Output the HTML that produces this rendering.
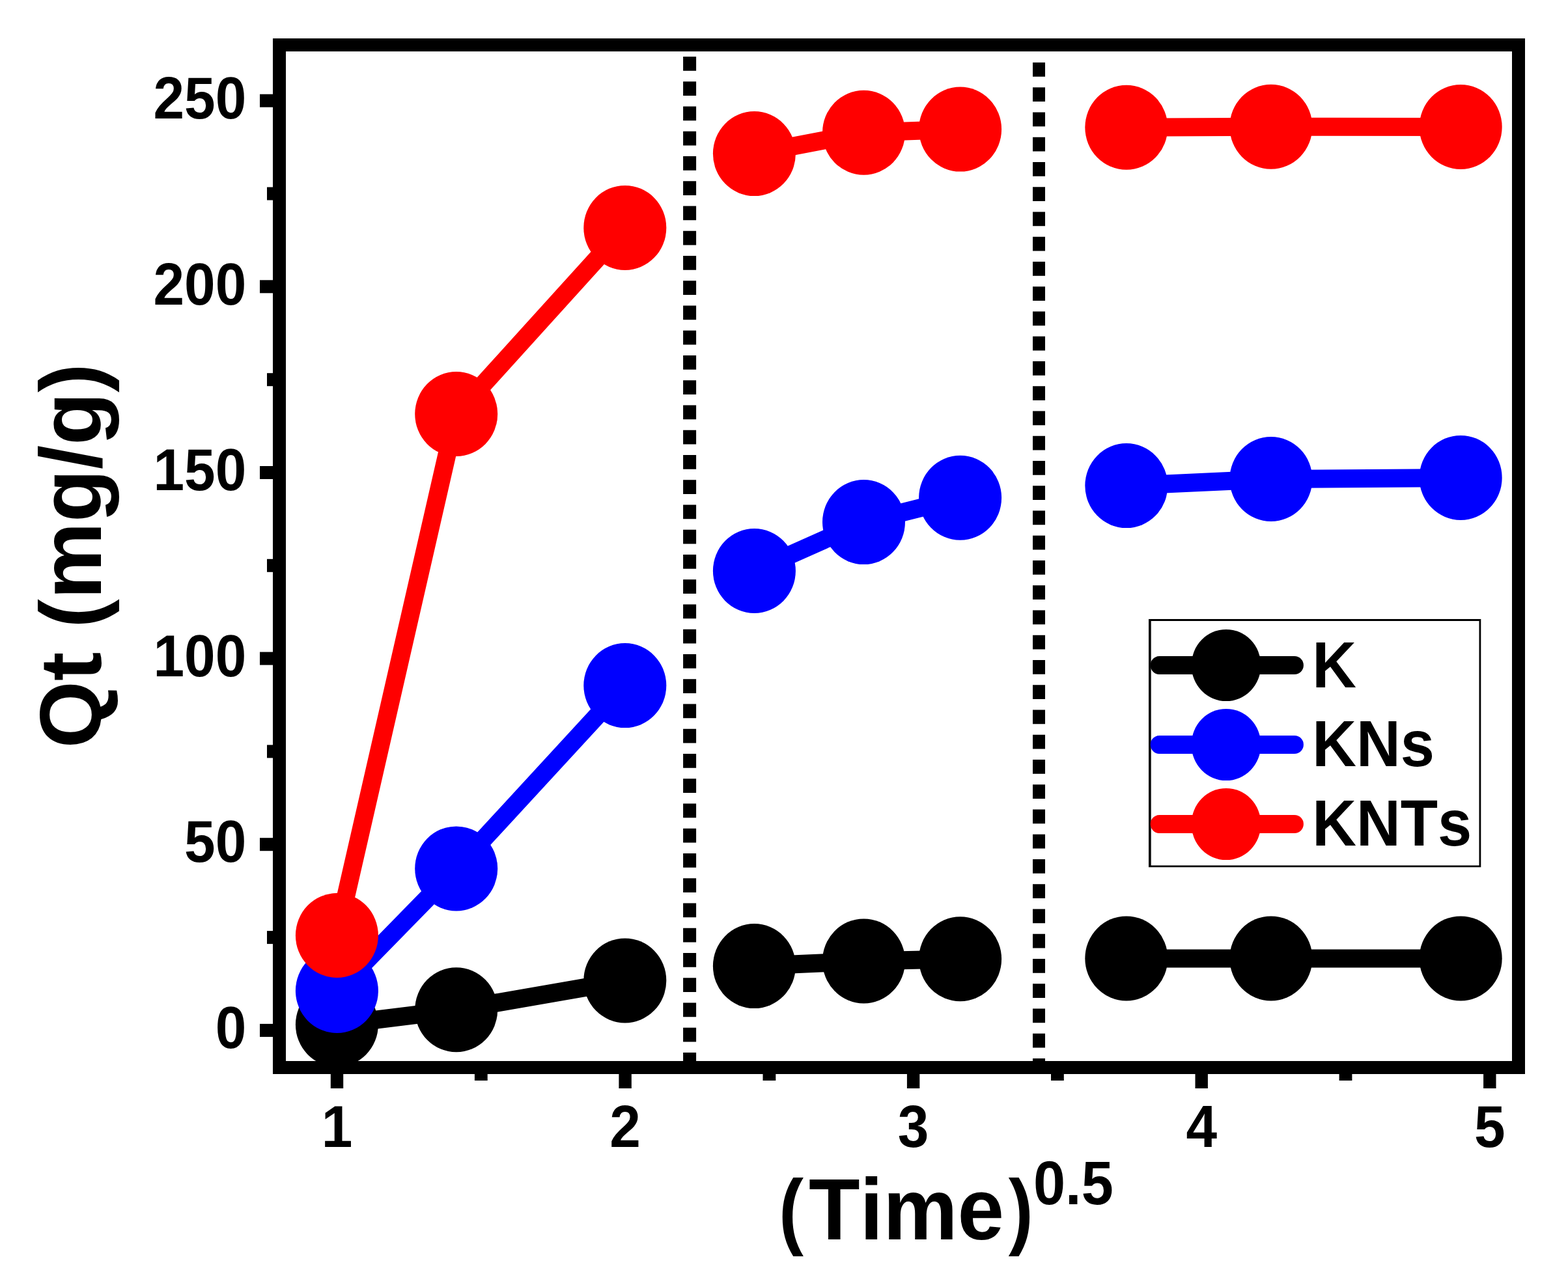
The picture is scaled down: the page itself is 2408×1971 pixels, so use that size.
<!DOCTYPE html>
<html lang="en"><head><meta charset="utf-8"><title>Qt (mg/g) vs (Time)^0.5</title>
<style>html,body{margin:0;padding:0;background:#fff;overflow:hidden}svg{display:block}text{font-family:"Liberation Sans",Arial,sans-serif;font-weight:bold;fill:#000;font-kerning:none}</style></head><body>
<svg width="2408" height="1971" viewBox="0 0 2408 1971">
<rect width="2408" height="1971" fill="#fff"/>
<g stroke="#000" stroke-dasharray="21.8 16.45">
<line x1="1059.1" y1="86.9" x2="1059.1" y2="1640" stroke-width="20"/>
<line x1="1595.5" y1="95.9" x2="1595.5" y2="1640" stroke-width="19"/>
</g>
<g class="k">
<polyline points="517.4,1574 700.7,1551.3 959.8,1506.4" fill="none" stroke="#000" stroke-width="28" stroke-linejoin="round"/>
<polyline points="1158.4,1484.1 1326.5,1476.4 1474.6,1473.3" fill="none" stroke="#000" stroke-width="28" stroke-linejoin="round"/>
<polyline points="1729.8,1472.4 1951.9,1472.4 2243.2,1472.4" fill="none" stroke="#000" stroke-width="28" stroke-linejoin="round"/>
<ellipse cx="517.4" cy="1574" rx="63.5" ry="65.0" fill="#000"/>
<ellipse cx="700.7" cy="1551.3" rx="63.5" ry="65.0" fill="#000"/>
<ellipse cx="959.8" cy="1506.4" rx="63.5" ry="65.0" fill="#000"/>
<ellipse cx="1158.4" cy="1484.1" rx="63.5" ry="65.0" fill="#000"/>
<ellipse cx="1326.5" cy="1476.4" rx="63.5" ry="65.0" fill="#000"/>
<ellipse cx="1474.6" cy="1473.3" rx="63.5" ry="65.0" fill="#000"/>
<ellipse cx="1729.8" cy="1472.4" rx="63.5" ry="65.0" fill="#000"/>
<ellipse cx="1951.9" cy="1472.4" rx="63.5" ry="65.0" fill="#000"/>
<ellipse cx="2243.2" cy="1472.4" rx="63.5" ry="65.0" fill="#000"/>
</g>
<g class="kns">
<polyline points="517.4,1522 700.7,1334.4 959.8,1053.1" fill="none" stroke="#0000ff" stroke-width="28" stroke-linejoin="round"/>
<polyline points="1158.4,877 1326.5,802.1 1474.6,764.8" fill="none" stroke="#0000ff" stroke-width="28" stroke-linejoin="round"/>
<polyline points="1729.8,746.1 1951.9,736 2243.2,733.9" fill="none" stroke="#0000ff" stroke-width="28" stroke-linejoin="round"/>
<ellipse cx="517.4" cy="1522" rx="63.5" ry="65.0" fill="#0000ff"/>
<ellipse cx="700.7" cy="1334.4" rx="63.5" ry="65.0" fill="#0000ff"/>
<ellipse cx="959.8" cy="1053.1" rx="63.5" ry="65.0" fill="#0000ff"/>
<ellipse cx="1158.4" cy="877" rx="63.5" ry="65.0" fill="#0000ff"/>
<ellipse cx="1326.5" cy="802.1" rx="63.5" ry="65.0" fill="#0000ff"/>
<ellipse cx="1474.6" cy="764.8" rx="63.5" ry="65.0" fill="#0000ff"/>
<ellipse cx="1729.8" cy="746.1" rx="63.5" ry="65.0" fill="#0000ff"/>
<ellipse cx="1951.9" cy="736" rx="63.5" ry="65.0" fill="#0000ff"/>
<ellipse cx="2243.2" cy="733.9" rx="63.5" ry="65.0" fill="#0000ff"/>
</g>
<g class="knts">
<polyline points="517.4,1437 700.7,636 959.8,349.9" fill="none" stroke="#ff0000" stroke-width="28" stroke-linejoin="round"/>
<polyline points="1158.4,236.1 1326.5,203.7 1474.6,198.6" fill="none" stroke="#ff0000" stroke-width="28" stroke-linejoin="round"/>
<polyline points="1729.8,195.8 1951.9,194.7 2243.2,195.0" fill="none" stroke="#ff0000" stroke-width="28" stroke-linejoin="round"/>
<ellipse cx="517.4" cy="1437" rx="63.5" ry="65.0" fill="#ff0000"/>
<ellipse cx="700.7" cy="636" rx="63.5" ry="65.0" fill="#ff0000"/>
<ellipse cx="959.8" cy="349.9" rx="63.5" ry="65.0" fill="#ff0000"/>
<ellipse cx="1158.4" cy="236.1" rx="63.5" ry="65.0" fill="#ff0000"/>
<ellipse cx="1326.5" cy="203.7" rx="63.5" ry="65.0" fill="#ff0000"/>
<ellipse cx="1474.6" cy="198.6" rx="63.5" ry="65.0" fill="#ff0000"/>
<ellipse cx="1729.8" cy="195.8" rx="63.5" ry="65.0" fill="#ff0000"/>
<ellipse cx="1951.9" cy="194.7" rx="63.5" ry="65.0" fill="#ff0000"/>
<ellipse cx="2243.2" cy="195.0" rx="63.5" ry="65.0" fill="#ff0000"/>
</g>
<rect x="429" y="69" width="1903" height="1571" fill="none" stroke="#000" stroke-width="20"/>
<g fill="#000">
<rect x="399" y="1572.9" width="21" height="20"/>
<rect x="399" y="1287.2" width="21" height="20"/>
<rect x="399" y="1001.6" width="21" height="20"/>
<rect x="399" y="716.0" width="21" height="20"/>
<rect x="399" y="430.3" width="21" height="20"/>
<rect x="399" y="144.7" width="21" height="20"/>
<rect x="410" y="1430.1" width="10" height="20"/>
<rect x="410" y="1144.4" width="10" height="20"/>
<rect x="410" y="858.8" width="10" height="20"/>
<rect x="410" y="573.2" width="10" height="20"/>
<rect x="410" y="287.5" width="10" height="20"/>
<rect x="507.8" y="1649" width="19.4" height="23"/>
<rect x="950.4" y="1649" width="19.4" height="23"/>
<rect x="1392.9" y="1649" width="19.4" height="23"/>
<rect x="1835.5" y="1649" width="19.4" height="23"/>
<rect x="2278.1" y="1649" width="19.4" height="23"/>
<rect x="728.9" y="1649" width="19.8" height="11"/>
<rect x="1171.5" y="1649" width="19.8" height="11"/>
<rect x="1614.0" y="1649" width="19.8" height="11"/>
<rect x="2056.6" y="1649" width="19.8" height="11"/>
</g>
<text transform="translate(378.2 1610.1) scale(0.94 1)" font-size="91" text-anchor="end">0</text>
<text transform="translate(378.2 1324.4) scale(0.94 1)" font-size="91" text-anchor="end">50</text>
<text transform="translate(378.2 1038.8) scale(0.94 1)" font-size="91" text-anchor="end">100</text>
<text transform="translate(378.2 753.2) scale(0.94 1)" font-size="91" text-anchor="end">150</text>
<text transform="translate(378.2 467.5) scale(0.94 1)" font-size="91" text-anchor="end">200</text>
<text transform="translate(378.2 181.9) scale(0.94 1)" font-size="91" text-anchor="end">250</text>
<text transform="translate(517.5 1762) scale(0.94 1)" font-size="91" text-anchor="middle">1</text>
<text transform="translate(960.1 1762) scale(0.94 1)" font-size="91" text-anchor="middle">2</text>
<text transform="translate(1402.6 1762) scale(0.94 1)" font-size="91" text-anchor="middle">3</text>
<text transform="translate(1845.2 1762) scale(0.94 1)" font-size="91" text-anchor="middle">4</text>
<text transform="translate(2287.8 1762) scale(0.94 1)" font-size="91" text-anchor="middle">5</text>
<text transform="translate(1196.12 1902.81) scale(0.8776 0.9969)" font-size="130">(</text>
<text transform="translate(1241.96 1903.70) scale(0.9593 1.0000)" font-size="134">Time</text>
<text transform="translate(1548.79 1902.81) scale(0.8776 0.9969)" font-size="130">)</text>
<text transform="translate(1587.01 1849.58) scale(0.9394 0.9992)" font-size="94">0.5</text>
<text transform="translate(155 854) rotate(-90)" font-size="133" text-anchor="middle">Qt (mg/g)</text>
<rect x="1764" y="951" width="510.3" height="381.3" fill="#fff"/>
<path d="M1764 951H2274.3V1332.3H1764Z M1767.7 953.9V1329.5H2271.5V953.9Z" fill="#000" fill-rule="evenodd"/>
<line x1="1780.7" y1="1022" x2="1987.9" y2="1022" stroke="#000" stroke-width="28" stroke-linecap="round"/>
<ellipse cx="1883" cy="1022" rx="53.4" ry="55.1" fill="#000"/>
<text transform="translate(2015.2 1055.9) scale(0.938 1)" font-size="100">K</text>
<line x1="1780.7" y1="1144" x2="1987.9" y2="1144" stroke="#0000ff" stroke-width="28" stroke-linecap="round"/>
<ellipse cx="1883" cy="1144" rx="53.4" ry="55.1" fill="#0000ff"/>
<text transform="translate(2015.2 1177.3) scale(0.938 1)" font-size="100">KNs</text>
<line x1="1780.7" y1="1266" x2="1987.9" y2="1266" stroke="#ff0000" stroke-width="28" stroke-linecap="round"/>
<ellipse cx="1883" cy="1266" rx="53.4" ry="55.1" fill="#ff0000"/>
<text transform="translate(2015.2 1298.6) scale(0.938 1)" font-size="100">KNTs</text>
</svg></body></html>
